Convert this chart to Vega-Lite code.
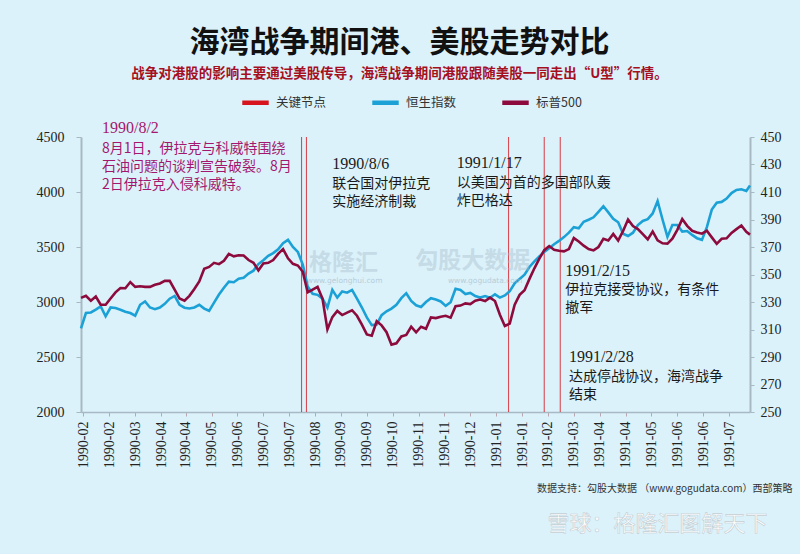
{
  "$schema": "https://vega.github.io/schema/vega-lite/v6.json",
  "width": 669,
  "height": 275,
  "autosize": {"type": "none"},
  "padding": {"left": 81, "top": 137, "right": 50, "bottom": 142},
  "background": "#DBF2FB",
  "config": {"view": {"stroke": null}, "font": "Noto Sans CJK SC"},
  "title": {
    "text": "海湾战争期间港、美股走势对比",
    "subtitle": "战争对港股的影响主要通过美股传导，海湾战争期间港股跟随美股一同走出“U型”行情。",
    "anchor": "middle", "frame": "group",
    "font": "Noto Sans CJK SC", "fontSize": 30, "fontWeight": "bold", "color": "#111111",
    "subtitleFont": "Noto Sans CJK SC", "subtitleFontSize": 13.5, "subtitleFontWeight": "bold",
    "subtitleColor": "#A50F1E", "subtitlePadding": 9, "offset": 7, "dx": -16
  },
  "datasets": {
    "hk": [
      {"date":"1990-02-04","v":2760},{"date":"1990-02-08","v":2900},{"date":"1990-02-12","v":2905},{"date":"1990-02-16","v":2930},
      {"date":"1990-02-20","v":2960},{"date":"1990-02-24","v":2870},{"date":"1990-02-28","v":2950},{"date":"1990-03-04","v":2945},
      {"date":"1990-03-08","v":2930},{"date":"1990-03-12","v":2912},{"date":"1990-03-16","v":2900},{"date":"1990-03-20","v":2875},
      {"date":"1990-03-24","v":2975},{"date":"1990-03-28","v":3005},{"date":"1990-04-01","v":2950},{"date":"1990-04-05","v":2935},
      {"date":"1990-04-09","v":2950},{"date":"1990-04-13","v":2983},{"date":"1990-04-17","v":3030},{"date":"1990-04-21","v":3055},
      {"date":"1990-04-25","v":2975},{"date":"1990-04-29","v":2948},{"date":"1990-05-03","v":2941},{"date":"1990-05-07","v":2950},
      {"date":"1990-05-11","v":2975},{"date":"1990-05-15","v":2940},{"date":"1990-05-19","v":2920},{"date":"1990-05-23","v":2995},
      {"date":"1990-05-27","v":3068},{"date":"1990-05-31","v":3130},{"date":"1990-06-04","v":3185},{"date":"1990-06-08","v":3180},
      {"date":"1990-06-12","v":3212},{"date":"1990-06-16","v":3220},{"date":"1990-06-20","v":3258},{"date":"1990-06-24","v":3285},
      {"date":"1990-06-28","v":3345},{"date":"1990-07-02","v":3380},{"date":"1990-07-06","v":3420},{"date":"1990-07-10","v":3445},
      {"date":"1990-07-14","v":3480},{"date":"1990-07-18","v":3535},{"date":"1990-07-22","v":3565},{"date":"1990-07-26","v":3500},
      {"date":"1990-07-30","v":3455},{"date":"1990-08-03","v":3340},{"date":"1990-08-07","v":3140},{"date":"1990-08-11","v":3075},
      {"date":"1990-08-15","v":3065},{"date":"1990-08-19","v":3030},{"date":"1990-08-23","v":2950},{"date":"1990-08-27","v":3110},
      {"date":"1990-08-31","v":3040},{"date":"1990-09-04","v":3095},{"date":"1990-09-08","v":3085},{"date":"1990-09-12","v":3110},
      {"date":"1990-09-16","v":3030},{"date":"1990-09-20","v":2950},{"date":"1990-09-24","v":2860},{"date":"1990-09-28","v":2790},
      {"date":"1990-10-02","v":2796},{"date":"1990-10-06","v":2880},{"date":"1990-10-10","v":2915},{"date":"1990-10-14","v":2940},
      {"date":"1990-10-18","v":2975},{"date":"1990-10-22","v":3035},{"date":"1990-10-26","v":3080},{"date":"1990-10-30","v":3010},
      {"date":"1990-11-03","v":2970},{"date":"1990-11-07","v":2955},{"date":"1990-11-11","v":3000},{"date":"1990-11-15","v":3035},
      {"date":"1990-11-19","v":3022},{"date":"1990-11-23","v":3005},{"date":"1990-11-27","v":2965},{"date":"1990-12-01","v":2998},
      {"date":"1990-12-05","v":3120},{"date":"1990-12-09","v":3110},{"date":"1990-12-13","v":3072},{"date":"1990-12-17","v":3083},
      {"date":"1990-12-21","v":3054},{"date":"1990-12-25","v":3040},{"date":"1990-12-29","v":3054},{"date":"1991-01-02","v":3039},
      {"date":"1991-01-06","v":3070},{"date":"1991-01-10","v":3040},{"date":"1991-01-14","v":3060},{"date":"1991-01-18","v":3098},
      {"date":"1991-01-22","v":3170},{"date":"1991-01-26","v":3210},{"date":"1991-01-30","v":3248},{"date":"1991-02-03","v":3318},
      {"date":"1991-02-07","v":3370},{"date":"1991-02-11","v":3415},{"date":"1991-02-15","v":3455},{"date":"1991-02-19","v":3488},
      {"date":"1991-02-23","v":3525},{"date":"1991-02-27","v":3555},{"date":"1991-03-03","v":3590},{"date":"1991-03-07","v":3630},
      {"date":"1991-03-11","v":3680},{"date":"1991-03-15","v":3670},{"date":"1991-03-19","v":3730},{"date":"1991-03-23","v":3748},
      {"date":"1991-03-27","v":3770},{"date":"1991-03-31","v":3820},{"date":"1991-04-04","v":3870},{"date":"1991-04-08","v":3815},
      {"date":"1991-04-12","v":3757},{"date":"1991-04-16","v":3725},{"date":"1991-04-20","v":3620},{"date":"1991-04-24","v":3600},
      {"date":"1991-04-28","v":3630},{"date":"1991-05-02","v":3700},{"date":"1991-05-06","v":3737},{"date":"1991-05-10","v":3753},
      {"date":"1991-05-14","v":3805},{"date":"1991-05-18","v":3918},{"date":"1991-05-22","v":3750},{"date":"1991-05-26","v":3592},
      {"date":"1991-05-30","v":3700},{"date":"1991-06-03","v":3700},{"date":"1991-06-07","v":3640},{"date":"1991-06-11","v":3645},
      {"date":"1991-06-15","v":3610},{"date":"1991-06-19","v":3580},{"date":"1991-06-23","v":3565},{"date":"1991-06-27","v":3680},
      {"date":"1991-07-01","v":3840},{"date":"1991-07-05","v":3903},{"date":"1991-07-09","v":3910},{"date":"1991-07-13","v":3940},
      {"date":"1991-07-17","v":3990},{"date":"1991-07-21","v":4018},{"date":"1991-07-25","v":4025},{"date":"1991-07-29","v":4010},
      {"date":"1991-08-01","v":4060}
    ],
    "us": [
      {"date":"1990-02-04","v":333},{"date":"1990-02-08","v":334.5},{"date":"1990-02-12","v":331},{"date":"1990-02-16","v":334},
      {"date":"1990-02-20","v":328},{"date":"1990-02-24","v":328},{"date":"1990-02-28","v":332.5},{"date":"1990-03-04","v":337},
      {"date":"1990-03-08","v":340.2},{"date":"1990-03-12","v":340},{"date":"1990-03-16","v":344.5},{"date":"1990-03-20","v":341},
      {"date":"1990-03-24","v":341.5},{"date":"1990-03-28","v":341},{"date":"1990-04-01","v":341},{"date":"1990-04-05","v":342.5},
      {"date":"1990-04-09","v":343.5},{"date":"1990-04-13","v":345.4},{"date":"1990-04-17","v":345.4},{"date":"1990-04-21","v":339},
      {"date":"1990-04-25","v":332.5},{"date":"1990-04-29","v":331},{"date":"1990-05-03","v":334.5},{"date":"1990-05-07","v":339.5},
      {"date":"1990-05-11","v":345},{"date":"1990-05-15","v":354.2},{"date":"1990-05-19","v":355.5},{"date":"1990-05-23","v":358.5},
      {"date":"1990-05-27","v":357.5},{"date":"1990-05-31","v":360},{"date":"1990-06-04","v":365},{"date":"1990-06-08","v":363.2},
      {"date":"1990-06-12","v":364},{"date":"1990-06-16","v":363.8},{"date":"1990-06-20","v":360.5},{"date":"1990-06-24","v":358.5},
      {"date":"1990-06-28","v":353},{"date":"1990-07-02","v":358},{"date":"1990-07-06","v":358.5},{"date":"1990-07-10","v":360.5},
      {"date":"1990-07-14","v":365},{"date":"1990-07-18","v":368.5},{"date":"1990-07-22","v":361.8},{"date":"1990-07-26","v":357.8},
      {"date":"1990-07-30","v":356.5},{"date":"1990-08-03","v":352},{"date":"1990-08-07","v":337},{"date":"1990-08-11","v":339},
      {"date":"1990-08-15","v":341},{"date":"1990-08-19","v":332.5},{"date":"1990-08-23","v":310},{"date":"1990-08-27","v":319},
      {"date":"1990-08-31","v":323.5},{"date":"1990-09-04","v":320.5},{"date":"1990-09-08","v":322.3},{"date":"1990-09-12","v":324},
      {"date":"1990-09-16","v":320},{"date":"1990-09-20","v":313.5},{"date":"1990-09-24","v":306.4},{"date":"1990-09-28","v":305.5},
      {"date":"1990-10-02","v":316},{"date":"1990-10-06","v":313},{"date":"1990-10-10","v":308},{"date":"1990-10-14","v":299},
      {"date":"1990-10-18","v":300},{"date":"1990-10-22","v":305},{"date":"1990-10-26","v":306},{"date":"1990-10-30","v":312},
      {"date":"1990-11-03","v":308},{"date":"1990-11-07","v":312},{"date":"1990-11-11","v":310.5},{"date":"1990-11-15","v":318.8},
      {"date":"1990-11-19","v":318.3},{"date":"1990-11-23","v":319.3},{"date":"1990-11-27","v":320},{"date":"1990-12-01","v":318.6},
      {"date":"1990-12-05","v":327},{"date":"1990-12-09","v":327.4},{"date":"1990-12-13","v":329},{"date":"1990-12-17","v":328.5},
      {"date":"1990-12-21","v":331},{"date":"1990-12-25","v":331.8},{"date":"1990-12-29","v":330.7},{"date":"1991-01-02","v":333.2},
      {"date":"1991-01-06","v":330.7},{"date":"1991-01-10","v":320.7},{"date":"1991-01-14","v":312.6},{"date":"1991-01-18","v":314.3},
      {"date":"1991-01-22","v":328},{"date":"1991-01-26","v":335.2},{"date":"1991-01-30","v":338.5},{"date":"1991-02-03","v":346.8},
      {"date":"1991-02-07","v":354.5},{"date":"1991-02-11","v":361.5},{"date":"1991-02-15","v":367.7},{"date":"1991-02-19","v":370.7},
      {"date":"1991-02-23","v":368},{"date":"1991-02-27","v":367.3},{"date":"1991-03-03","v":366.8},{"date":"1991-03-07","v":368.5},
      {"date":"1991-03-11","v":376.5},{"date":"1991-03-15","v":374},{"date":"1991-03-19","v":371},{"date":"1991-03-23","v":368.5},
      {"date":"1991-03-27","v":367.5},{"date":"1991-03-31","v":370},{"date":"1991-04-04","v":376},{"date":"1991-04-08","v":374.7},
      {"date":"1991-04-12","v":379.5},{"date":"1991-04-16","v":374.7},{"date":"1991-04-20","v":381.7},{"date":"1991-04-24","v":390},
      {"date":"1991-04-28","v":385.2},{"date":"1991-05-02","v":383},{"date":"1991-05-06","v":379.3},{"date":"1991-05-10","v":375.5},
      {"date":"1991-05-14","v":381.3},{"date":"1991-05-18","v":374.8},{"date":"1991-05-22","v":372.7},{"date":"1991-05-26","v":372.5},
      {"date":"1991-05-30","v":376},{"date":"1991-06-03","v":382.5},{"date":"1991-06-07","v":390.3},{"date":"1991-06-11","v":385.4},
      {"date":"1991-06-15","v":381.8},{"date":"1991-06-19","v":380.6},{"date":"1991-06-23","v":379.7},{"date":"1991-06-27","v":381.9},
      {"date":"1991-07-01","v":377},{"date":"1991-07-05","v":372.3},{"date":"1991-07-09","v":376},{"date":"1991-07-13","v":376.3},
      {"date":"1991-07-17","v":380.2},{"date":"1991-07-21","v":383},{"date":"1991-07-25","v":385.6},{"date":"1991-07-29","v":381},
      {"date":"1991-08-01","v":379}
    ],
    "events": [
      {"date":"1990-08-02"},{"date":"1990-08-06"},{"date":"1991-01-17"},{"date":"1991-02-15"},{"date":"1991-02-28"}
    ],
    "ndate": [
      {"date":"1990-02-21","v":4578,"t":"1990/8/2","c":"m"},
      {"date":"1990-08-27","v":4258,"t":"1990/8/6","c":"k"},
      {"date":"1990-12-06","v":4267,"t":"1991/1/17","c":"k"},
      {"date":"1991-03-04","v":3280,"t":"1991/2/15","c":"k"},
      {"date":"1991-03-07","v":2503,"t":"1991/2/28","c":"k"}
    ],
    "nbody": [
      {"date":"1990-02-21","v":4459,"t":" 8月1日，伊拉克与科威特围绕\n石油问题的谈判宣告破裂。8月\n2日伊拉克入侵科威特。","c":"m"},
      {"date":"1990-08-27","v":4139,"t":"联合国对伊拉克\n实施经济制裁","c":"k"},
      {"date":"1990-12-06","v":4148,"t":"以美国为首的多国部队轰\n炸巴格达","c":"k"},
      {"date":"1991-03-04","v":3170,"t":"伊拉克接受协议，有条件\n撤军","c":"k"},
      {"date":"1991-03-07","v":2384,"t":"达成停战协议，海湾战争\n结束","c":"k"}
    ],
    "wm": [
      {"date":"1990-09-05","v":3353,"t":"格隆汇"},
      {"date":"1990-12-19","v":3371,"t":"勾股大数据"}
    ],
    "wms": [
      {"date":"1990-09-06","v":3188,"t":"www.gelonghui.com"},
      {"date":"1990-12-29","v":3188,"t":"www.gogudata.com"}
    ],
    "wmb": [
      {"date":"1991-05-18","v":985,"t":"雪球：格隆汇图解天下"}
    ]
  },
  "encoding": {
    "x": {
      "field": "date", "type": "temporal",
      "scale": {"type": "utc", "domain": [{"year":1990,"month":2,"date":4,"utc":true},{"year":1991,"month":8,"date":1,"utc":true}]},
      "axis": {
        "values": [
          {"year":1990,"month":2,"date":6,"utc":true},{"year":1990,"month":2,"date":27,"utc":true},
          {"year":1990,"month":3,"date":20,"utc":true},{"year":1990,"month":4,"date":10,"utc":true},
          {"year":1990,"month":4,"date":30,"utc":true},{"year":1990,"month":5,"date":21,"utc":true},
          {"year":1990,"month":6,"date":11,"utc":true},{"year":1990,"month":7,"date":2,"utc":true},
          {"year":1990,"month":7,"date":23,"utc":true},{"year":1990,"month":8,"date":13,"utc":true},
          {"year":1990,"month":9,"date":3,"utc":true},{"year":1990,"month":9,"date":24,"utc":true},
          {"year":1990,"month":10,"date":15,"utc":true},{"year":1990,"month":11,"date":5,"utc":true},
          {"year":1990,"month":11,"date":26,"utc":true},{"year":1990,"month":12,"date":17,"utc":true},
          {"year":1991,"month":1,"date":7,"utc":true},{"year":1991,"month":1,"date":28,"utc":true},
          {"year":1991,"month":2,"date":18,"utc":true},{"year":1991,"month":3,"date":11,"utc":true},
          {"year":1991,"month":4,"date":1,"utc":true},{"year":1991,"month":4,"date":22,"utc":true},
          {"year":1991,"month":5,"date":13,"utc":true},{"year":1991,"month":6,"date":3,"utc":true},
          {"year":1991,"month":6,"date":24,"utc":true},{"year":1991,"month":7,"date":15,"utc":true}
        ],
        "format": "%Y-%m",
        "labelAngle": 270,
        "labelFont": "Liberation Serif", "labelFontSize": 14, "labelColor": "#222222", "labelPadding": 5,
        "tickSize": 4, "tickColor": "#B9A8B2", "domainColor": "#A7B9C2", "domainWidth": 1.5, "grid": false,
        "title": "数据支持：勾股大数据 （www.gogudata.com）西部策略",
        "titleFont": "Noto Sans CJK SC", "titleFontSize": 10, "titleFontWeight": "normal", "titleColor": "#333333",
        "titleX": 711, "titleY": 76, "titleAlign": "right", "titleBaseline": "middle"
      }
    }
  },
  "layer": [
    {
      "data": {"name": "events"},
      "mark": {"type": "rule", "strokeWidth": 1.1, "opacity": 0.75},
      "encoding": {
        "color": {"datum": "关键节点", "type": "nominal",
          "scale": {"domain": ["关键节点", "恒生指数", "标普500"], "range": ["#D7141E", "#1BA1D6", "#8C0B3C"]},
          "legend": {"orient": "none", "legendX": 159, "legendY": -50, "direction": "horizontal", "title": null,
            "symbolType": "stroke", "symbolStrokeWidth": 4.5, "symbolSize": 700, "symbolOpacity": 1,
            "labelFont": "Noto Sans CJK SC", "labelFontSize": 12.5, "labelColor": "#333333",
            "columnPadding": 36, "labelOffset": 5}
        }
      }
    },
    {
      "data": {"name": "hk"},
      "mark": {"type": "line", "strokeWidth": 2.6},
      "encoding": {
        "y": {"field": "v", "type": "quantitative", "scale": {"domain": [2000, 4500], "nice": false, "zero": false},
          "axis": {"orient": "left", "values": [2000, 2500, 3000, 3500, 4000, 4500], "format": "d", "title": null, "grid": false,
            "labelFont": "Liberation Serif", "labelFontSize": 14, "labelColor": "#222222", "labelPadding": 12,
            "tickSize": 5, "tickColor": "#A7B9C2", "domainColor": "#A7B9C2", "domainWidth": 2}},
        "color": {"datum": "恒生指数", "type": "nominal"}
      }
    },
    {
      "data": {"name": "us"},
      "mark": {"type": "line", "strokeWidth": 2.6},
      "encoding": {
        "y": {"field": "v", "type": "quantitative", "scale": {"domain": [250, 450], "nice": false, "zero": false},
          "axis": {"orient": "right", "values": [250, 270, 290, 310, 330, 350, 370, 390, 410, 430, 450], "format": "d", "title": null, "grid": false,
            "labelFont": "Liberation Serif", "labelFontSize": 14, "labelColor": "#222222", "labelPadding": 6,
            "tickSize": 4, "tickColor": "#A7B9C2", "domainColor": "#A7B9C2", "domainWidth": 2}},
        "color": {"datum": "标普500", "type": "nominal"}
      }
    },
    {
      "data": {"name": "ndate"},
      "mark": {"type": "text", "font": "Liberation Serif", "fontSize": 16, "align": "left", "baseline": "middle"},
      "encoding": {
        "y": {"field": "v", "type": "quantitative", "scale": {"domain": [2000, 4500], "nice": false, "zero": false}, "axis": null},
        "text": {"field": "t"},
        "fill": {"field": "c", "type": "nominal", "scale": {"domain": ["m", "k"], "range": ["#A3186E", "#1A1A1A"]}, "legend": null}
      }
    },
    {
      "data": {"name": "nbody"},
      "mark": {"type": "text", "font": "Noto Sans CJK SC", "fontSize": 14, "align": "left", "baseline": "top", "lineBreak": "\n", "lineHeight": 18},
      "encoding": {
        "y": {"field": "v", "type": "quantitative", "scale": {"domain": [2000, 4500], "nice": false, "zero": false}, "axis": null},
        "text": {"field": "t"},
        "fill": {"field": "c", "type": "nominal", "scale": {"domain": ["m", "k"], "range": ["#A3186E", "#1A1A1A"]}, "legend": null}
      }
    },
    {
      "data": {"name": "wm"},
      "mark": {"type": "text", "font": "Noto Sans CJK SC", "fontSize": 23, "fontWeight": "bold", "align": "center", "baseline": "middle", "color": "#A5B9C7", "opacity": 0.4},
      "encoding": {
        "y": {"field": "v", "type": "quantitative", "scale": {"domain": [2000, 4500], "nice": false, "zero": false}, "axis": null},
        "text": {"field": "t"}
      }
    },
    {
      "data": {"name": "wms"},
      "mark": {"type": "text", "font": "DejaVu Sans", "fontSize": 7.5, "align": "center", "baseline": "middle", "color": "#9FB4C3", "opacity": 0.6},
      "encoding": {
        "y": {"field": "v", "type": "quantitative", "scale": {"domain": [2000, 4500], "nice": false, "zero": false}, "axis": null},
        "text": {"field": "t"}
      }
    },
    {
      "data": {"name": "wmb"},
      "mark": {"type": "text", "font": "Noto Sans CJK SC", "fontSize": 22, "align": "center", "baseline": "middle", "color": "#FFFFFF", "stroke": "#C3CDD2", "strokeWidth": 0.6, "opacity": 0.95},
      "encoding": {
        "y": {"field": "v", "type": "quantitative", "scale": {"domain": [2000, 4500], "nice": false, "zero": false}, "axis": null},
        "text": {"field": "t"}
      }
    }
  ],
  "resolve": {"scale": {"y": "independent"}}
}
